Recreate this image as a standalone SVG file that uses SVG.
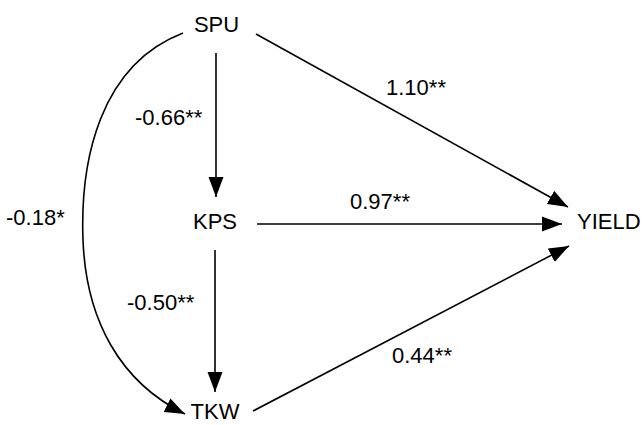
<svg xmlns="http://www.w3.org/2000/svg" width="644" height="425" viewBox="0 0 644 425">
<style>
text{font-family:"Liberation Sans",Arial,sans-serif;font-size:22px;fill:#000}
.c{fill:none;stroke:#000;stroke-width:1.6}
</style>
<defs>
<marker id="ah" markerUnits="userSpaceOnUse" markerWidth="20" markerHeight="16" refX="20" refY="8" orient="auto" viewBox="0 0 20 16">
<path d="M0,0.5 L20,8 L0,15.5 z" fill="#000"/>
</marker>
</defs>
<rect width="644" height="425" fill="#fff"/>
<g id="connectors">
<line class="c" x1="216" y1="53" x2="216" y2="197" marker-end="url(#ah)"/>
<line class="c" x1="215" y1="250" x2="215" y2="392" marker-end="url(#ah)"/>
<line class="c" x1="256" y1="34" x2="568" y2="207" marker-end="url(#ah)"/>
<line class="c" x1="257" y1="224" x2="562" y2="224" marker-end="url(#ah)"/>
<line class="c" x1="253" y1="411" x2="569" y2="246" marker-end="url(#ah)"/>
<path class="c" d="M183,33 C100,65 80,160 83,240 C86,320 120,382 185,414" marker-end="url(#ah)"/>
</g>
<g id="labels">
<text x="135" y="125">-0.66**</text>
<text x="127" y="310">-0.50**</text>
<text x="6" y="225">-0.18*</text>
<text x="386" y="95">1.10**</text>
<text x="350" y="209">0.97**</text>
<text x="392" y="363">0.44**</text>
</g>
<g id="SPU"><text x="216.5" y="32" text-anchor="middle">SPU</text></g>
<g id="KPS"><text x="215" y="229" text-anchor="middle">KPS</text></g>
<g id="TKW"><text x="215" y="419" text-anchor="middle">TKW</text></g>
<g id="YIELD"><text x="577" y="229">YIELD</text></g>
</svg>
